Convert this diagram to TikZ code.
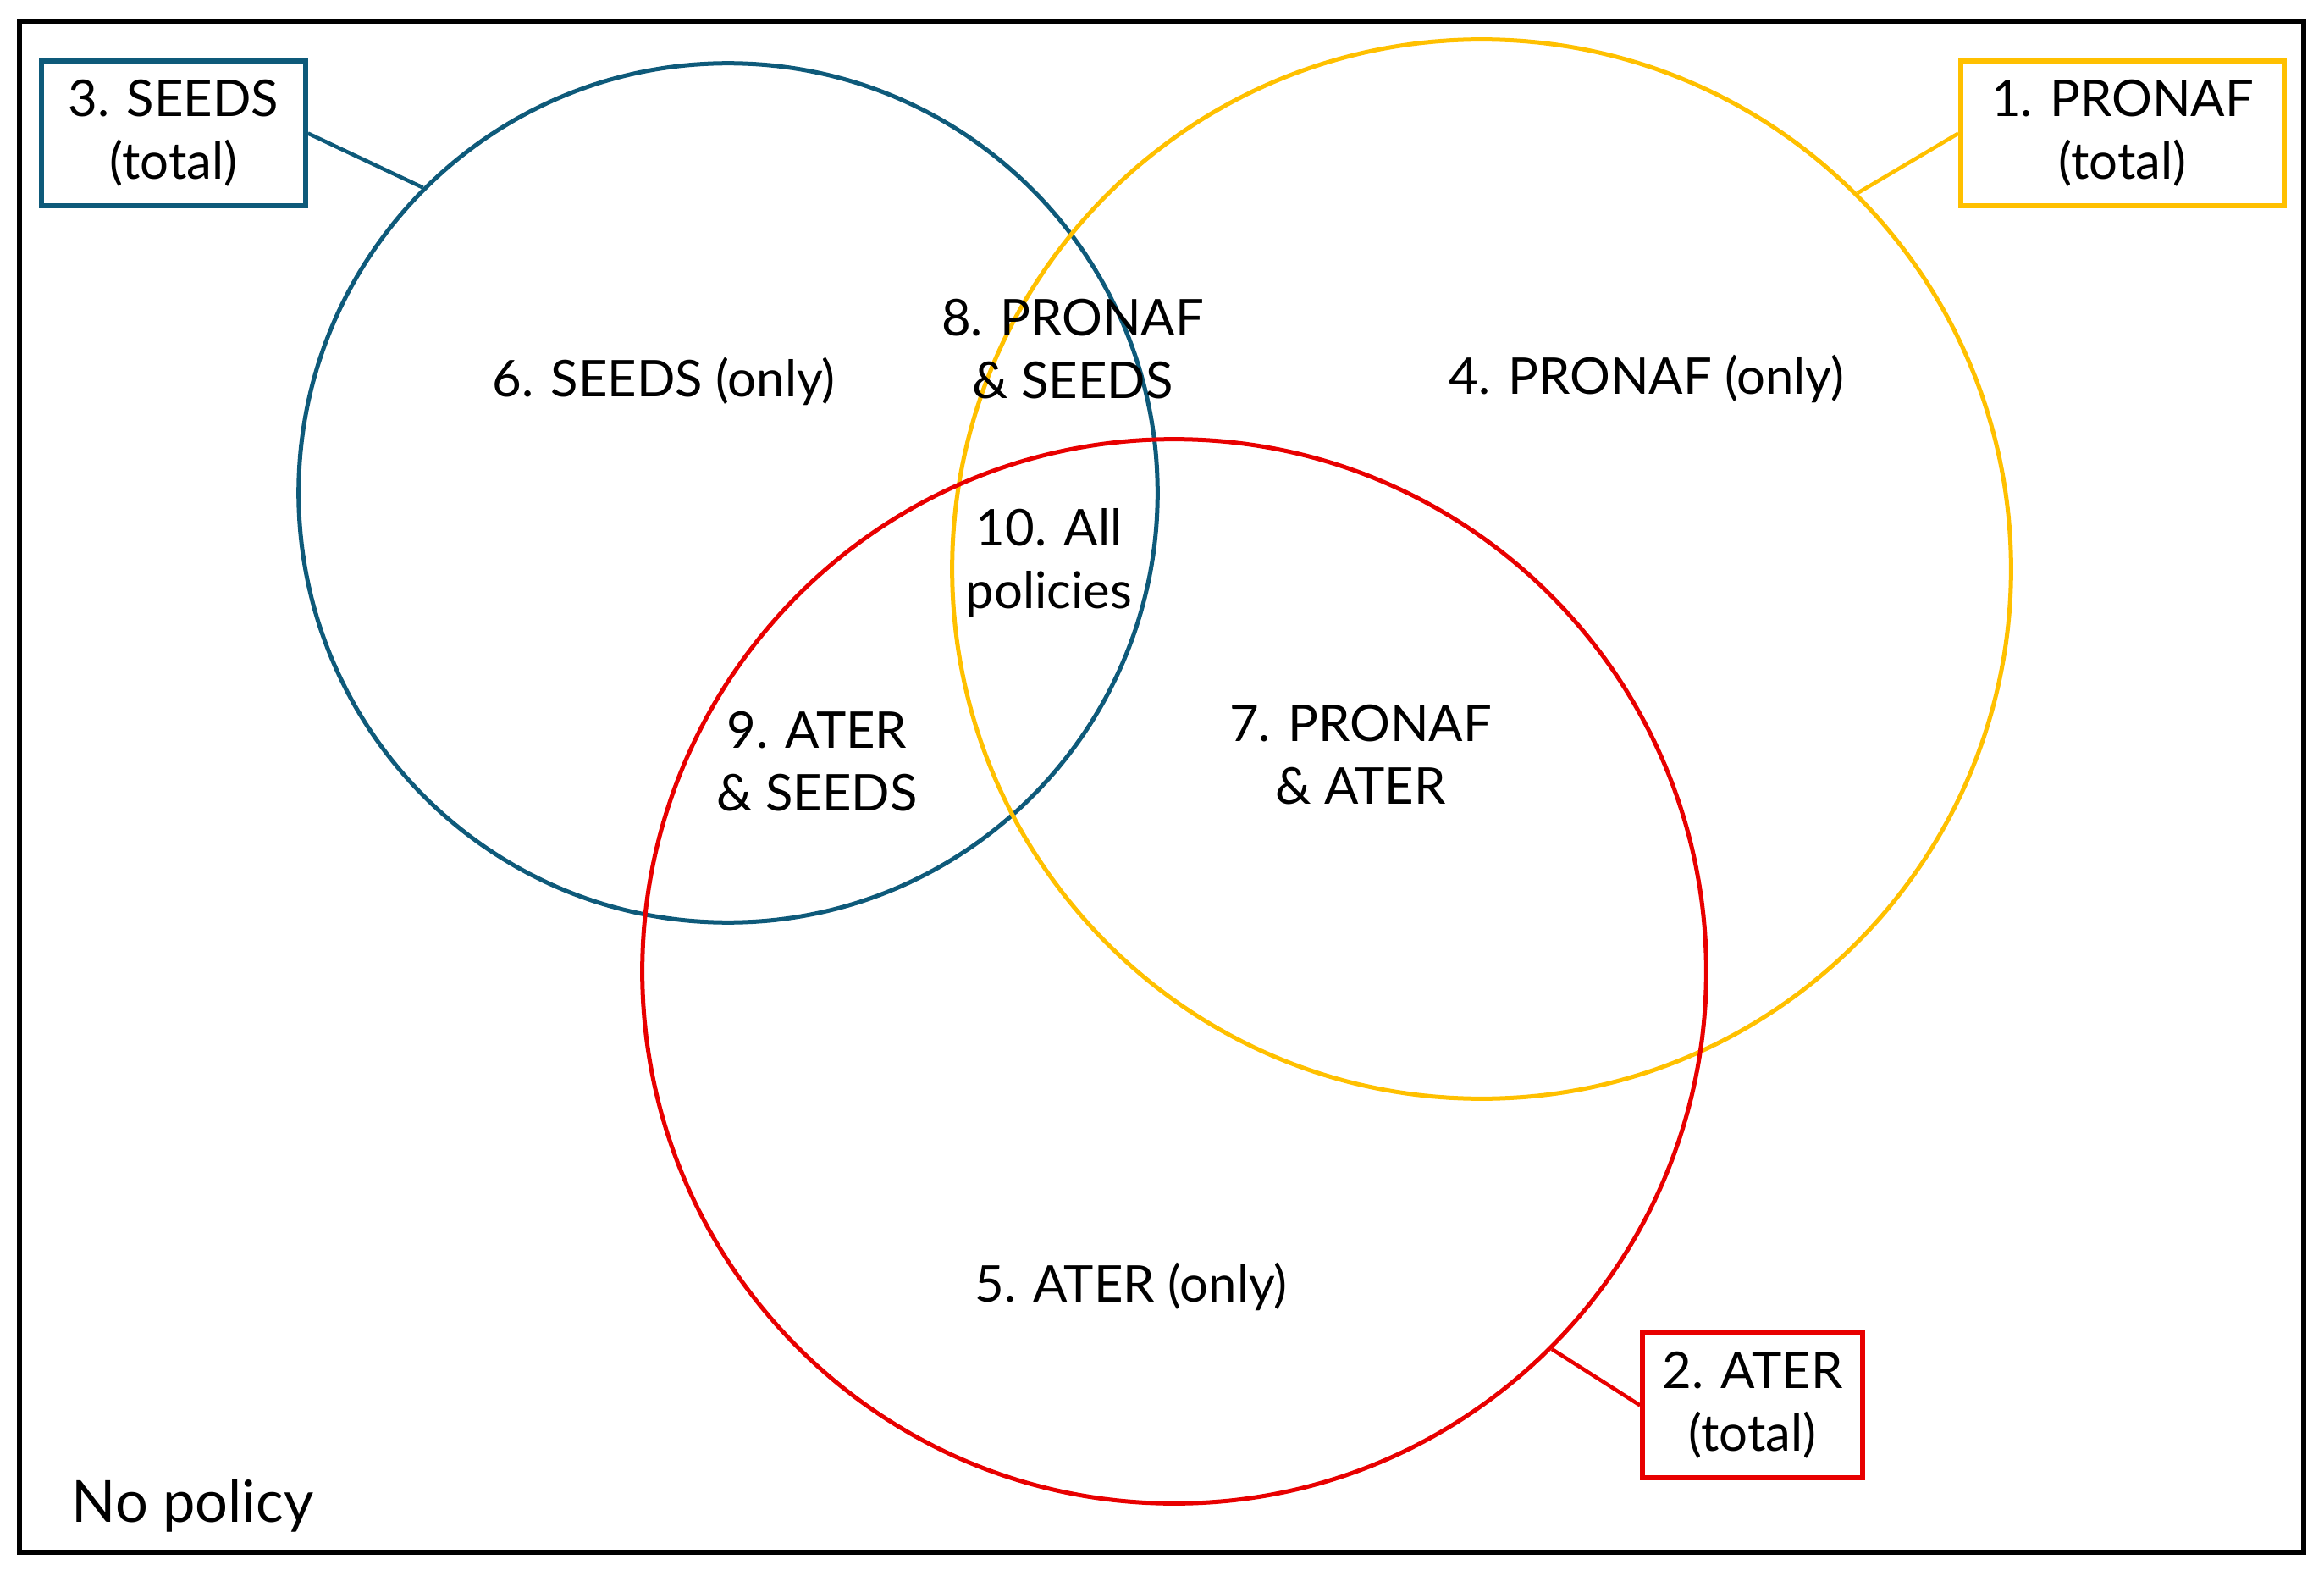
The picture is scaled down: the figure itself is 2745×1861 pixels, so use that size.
\documentclass[tikz,border=0pt]{standalone}
\usepackage{fontspec}
\setmainfont{Lato}
\definecolor{cblue}{HTML}{0E5A7A}
\definecolor{cyellow}{HTML}{FFC000}
\definecolor{cred}{HTML}{E80000}
\begin{document}
\begin{tikzpicture}[x=0.01cm,y=-0.01cm,
  venn/.style={circle,draw=#1,line width=0.05cm,inner sep=0pt},
  totbox/.style={draw=#1,line width=0.055cm,inner sep=0pt,align=center,font=\fontsize{17}{21}\selectfont,text depth=0.1cm},
  lbl/.style={align=center,font=\fontsize{17}{21}\selectfont,inner sep=0pt},
  link/.style={draw=#1,line width=0.045cm}]
\useasboundingbox (0,0) rectangle (2745,1861);
\draw[line width=0.055cm] (23,25) rectangle (2721,1833);
\node[venn=cblue,minimum size=10.14cm] (blue) at (860,582) {};
\node[venn=cyellow,minimum size=12.50cm] (yellow) at (1750,672) {};
\node[venn=cred,minimum size=12.56cm] (red) at (1387,1147) {};
\node[totbox=cblue,minimum width=3.12cm,minimum height=1.71cm] (sbox) at (205,157.5) {3. SEEDS\\(total)};
\node[totbox=cyellow,minimum width=3.82cm,minimum height=1.71cm] (pbox) at (2507,157.5) {1. PRONAF\\(total)};
\node[totbox=cred,minimum width=2.60cm,minimum height=1.71cm] (abox) at (2070,1659.5) {2. ATER\\(total)};
\draw[link=cblue] (sbox.east) -- (blue.135);
\draw[link=cyellow] (pbox.west) -- (yellow.45);
\draw[link=cred] (abox.west) -- (red.-45.2);
\node[lbl] (l6) at (784,450) {6. SEEDS (only)};
\node[lbl] (l8) at (1267,412) {8. PRONAF\\\& SEEDS};
\node[lbl] (l4) at (1945,447) {4. PRONAF (only)};
\node[lbl] (l10) at (1239,665) {10. All\\policies};
\node[lbl] (l9) at (965,899) {9. ATER\\\& SEEDS};
\node[lbl] (l7) at (1607,891) {7. PRONAF\\\& ATER};
\node[lbl] (l5) at (1336,1519) {5. ATER (only)};
\node[anchor=base west,inner sep=0pt,font=\fontsize{19.5}{22}\selectfont] (np) at (84,1797) {No policy};
\end{tikzpicture}
\end{document}
